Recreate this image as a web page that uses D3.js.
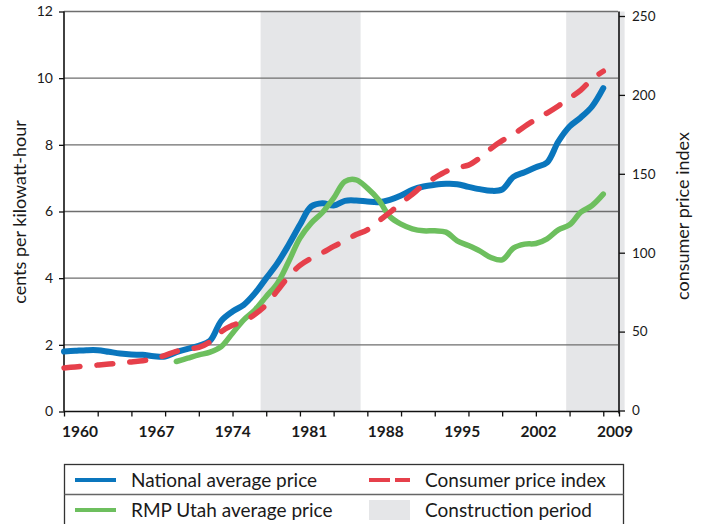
<!DOCTYPE html>
<html>
<head>
<meta charset="utf-8">
<script src="https://cdn.jsdelivr.net/npm/d3@7"></script>
<style>
  body { margin: 0; background: #fff; }
  text { font-family: Lato, "Open Sans", sans-serif; fill: #1a1a1a; }
</style>
</head>
<body>
<div id="chart"></div>
<script>
// national average price, cents per kWh, from 1960
const nationalStart = 1960
const nationalPrice = [1.80, 1.82, 1.84, 1.84, 1.79, 1.74, 1.71, 1.70, 1.66, 1.65,
  1.78, 1.88, 1.97, 2.12, 2.72, 3.00, 3.20, 3.55, 4.00, 4.45,
  5.00, 5.60, 6.15, 6.25, 6.18, 6.32, 6.33, 6.30, 6.28, 6.35,
  6.48, 6.65, 6.75, 6.80, 6.83, 6.82, 6.74, 6.67, 6.62, 6.66,
  7.04, 7.18, 7.33, 7.47, 8.10, 8.55, 8.82, 9.15, 9.70]

// RMP Utah average price, cents per kWh, from 1970
const utahStart = 1970
const utahPrice = [1.50, 1.60, 1.70, 1.78, 1.95, 2.35, 2.75, 3.05, 3.45, 3.85,
  4.50, 5.20, 5.65, 5.97, 6.40, 6.90, 6.95, 6.70, 6.35, 5.85,
  5.62, 5.48, 5.42, 5.42, 5.38, 5.12, 4.98, 4.82, 4.62, 4.55,
  4.90, 5.02, 5.04, 5.18, 5.45, 5.60, 5.98, 6.18, 6.52]

// consumer price index, from 1960
const cpiStart = 1960
const cpi = [27, 27.6, 28.2, 28.8, 29.4, 30, 30.8, 31.5, 32.8, 35,
  37.5, 39, 40, 43.5, 50, 54, 56.5, 61, 67, 76,
  85, 92, 96.5, 100, 104, 107.5, 111.5, 114.5, 120, 125.5,
  131.5, 137, 143, 147.5, 151.5, 154, 155.5, 160, 166, 171,
  175, 180, 184.5, 188.5, 193, 198, 203, 210, 215]

const constructionPeriods = [[1977.5, 1986.4], [2004.7, 2009.9]]

const yearLabels = ["1960", "1967", "1974", "1981", "1988", "1995", "2002", "2009"]
const tickYears = [1960, 1963, 1966, 1969, 1972, 1975, 1978, 1981, 1984, 1987,
  1990, 1993, 1996, 1999, 2002, 2005, 2008, 2009.4]
const leftTicks = [0, 2, 4, 6, 8, 10, 12]
const rightTicks = [0, 50, 100, 150, 200, 250]

const colors = { national: "#0a76bd", utah: "#6dbf5e", cpi: "#e6404b", shade: "#e5e6e8" }

let width = 706
let height = 524

let svg = d3.select("#chart").append("svg")
  .attr("width", width)
  .attr("height", height)

let x = d3.scaleLinear().domain([1960, 2009.4]).range([64, 619])
let yL = d3.scaleLinear().domain([0, 12]).range([411.5, 11.5])
let yR = d3.scaleLinear().domain([0, 250]).range([410.5, 16])
let xLabel = d3.scalePoint().domain(yearLabels).range([80, 615])

// construction shading
svg.append("g").selectAll("rect")
  .data(constructionPeriods)
  .enter().append("rect")
  .attr("x", d => x(d[0]))
  .attr("width", d => x(d[1]) - x(d[0]))
  .attr("y", yL(12))
  .attr("height", yL(0) - yL(12))
  .attr("fill", colors.shade)

// gridlines
svg.append("g").selectAll("line")
  .data(leftTicks.filter(d => d > 0))
  .enter().append("line")
  .attr("x1", x(1960))
  .attr("x2", x(2009.4) - 1)
  .attr("y1", d => yL(d))
  .attr("y2", d => yL(d))
  .attr("stroke", "#6e6e6e")
  .attr("stroke-width", 1.3)

// axes
let leftAxis = svg.append("g")
  .attr("transform", "translate(" + x(1960) + ",0)")
  .call(d3.axisLeft(yL).tickValues(leftTicks).tickSize(5).tickSizeOuter(0).tickPadding(6))
leftAxis.select(".domain").remove()
leftAxis.selectAll("text").style("font-size", "14px")

let rightAxis = svg.append("g")
  .attr("transform", "translate(" + x(2009.4) + ",0)")
  .call(d3.axisRight(yR).tickValues(rightTicks).tickSize(6).tickSizeOuter(0).tickPadding(7))
rightAxis.select(".domain").remove()
rightAxis.selectAll("text").style("font-size", "13.5px")

let bottomAxis = svg.append("g")
  .attr("transform", "translate(0," + yL(0) + ")")
  .call(d3.axisBottom(x).tickValues(tickYears).tickSize(5).tickSizeOuter(0).tickFormat(""))
bottomAxis.select(".domain").remove()

svg.selectAll(".tick line").attr("stroke", "#111").attr("stroke-width", 1.3)

// axis lines
svg.append("line")
  .attr("x1", x(1960)).attr("x2", x(1960))
  .attr("y1", yL(12)).attr("y2", yL(0))
  .attr("stroke", "#111").attr("stroke-width", 1.6)
svg.append("line")
  .attr("x1", x(2009.4)).attr("x2", x(2009.4))
  .attr("y1", yL(12)).attr("y2", yL(0) + 2)
  .attr("stroke", "#111").attr("stroke-width", 1.6)
svg.append("line")
  .attr("x1", x(1960)).attr("x2", x(2009.4))
  .attr("y1", yL(0)).attr("y2", yL(0))
  .attr("stroke", "#111").attr("stroke-width", 1.6)

// year labels
svg.append("g").selectAll("text")
  .data(yearLabels)
  .enter().append("text")
  .attr("x", d => xLabel(d))
  .attr("y", 437)
  .attr("text-anchor", "middle")
  .style("font-size", "15.5px")
  .style("font-weight", "bold")
  .text(d => d)

// axis titles
svg.append("text")
  .attr("transform", "translate(26,212) rotate(-90)")
  .attr("text-anchor", "middle")
  .style("font-size", "18px")
  .text("cents per kilowatt-hour")

svg.append("text")
  .attr("transform", "translate(689,216) rotate(-90)")
  .attr("text-anchor", "middle")
  .style("font-size", "18px")
  .text("consumer price index")

// lines
let lineL = d3.line()
  .x(d => x(d.year))
  .y(d => yL(d.value))
  .curve(d3.curveCatmullRom.alpha(0.5))
let lineR = d3.line()
  .x(d => x(d.year))
  .y(d => yR(d.value))
  .curve(d3.curveCatmullRom.alpha(0.5))

let nationalData = nationalPrice.map((v, i) => ({ year: nationalStart + i, value: v }))
let utahData = utahPrice.map((v, i) => ({ year: utahStart + i, value: v }))
let cpiData = cpi.map((v, i) => ({ year: cpiStart + i, value: v }))

svg.append("path")
  .datum(nationalData)
  .attr("d", lineL)
  .attr("fill", "none")
  .attr("stroke", colors.national)
  .attr("stroke-width", 6)
  .attr("stroke-linecap", "round")
  .attr("stroke-linejoin", "round")

svg.append("path")
  .datum(utahData)
  .attr("d", lineL)
  .attr("fill", "none")
  .attr("stroke", colors.utah)
  .attr("stroke-width", 5.5)
  .attr("stroke-linecap", "round")
  .attr("stroke-linejoin", "round")

svg.append("path")
  .datum(cpiData)
  .attr("d", lineR)
  .attr("fill", "none")
  .attr("stroke", colors.cpi)
  .attr("stroke-width", 5.5)
  .attr("stroke-dasharray", "16 17")
  .attr("stroke-linecap", "round")

// legend
let legend = svg.append("g")

legend.append("rect")
  .attr("x", 64.5).attr("y", 464.5)
  .attr("width", 559).attr("height", 70)
  .attr("fill", "none")
  .attr("stroke", "#333")
  .attr("stroke-width", 1.3)

legend.append("line")
  .attr("x1", 64.5).attr("x2", 623.5)
  .attr("y1", 494.5).attr("y2", 494.5)
  .attr("stroke", "#666")
  .attr("stroke-width", 1.3)

let legendItems = [
  { label: "National average price", kind: "line", color: colors.national, lx: 75, ly: 480 },
  { label: "RMP Utah average price", kind: "line", color: colors.utah, lx: 75, ly: 510 },
  { label: "Consumer price index", kind: "dash", color: colors.cpi, lx: 369, ly: 480 },
  { label: "Construction period", kind: "box", color: colors.shade, lx: 369, ly: 510 }
]

legendItems.forEach(function(d) {
  if (d.kind == "box") {
    legend.append("rect")
      .attr("x", d.lx).attr("y", d.ly - 10)
      .attr("width", 41).attr("height", 20)
      .attr("fill", d.color)
  } else {
    legend.append("line")
      .attr("x1", d.lx).attr("x2", d.lx + 41)
      .attr("y1", d.ly).attr("y2", d.ly)
      .attr("stroke", d.color)
      .attr("stroke-width", 4)
      .attr("stroke-dasharray", d.kind == "dash" ? "21 5" : null)
  }
  legend.append("text")
    .attr("x", d.lx + 56)
    .attr("y", d.ly + 7)
    .style("font-size", "19px")
    .text(d.label)
})
</script>
</body>
</html>
